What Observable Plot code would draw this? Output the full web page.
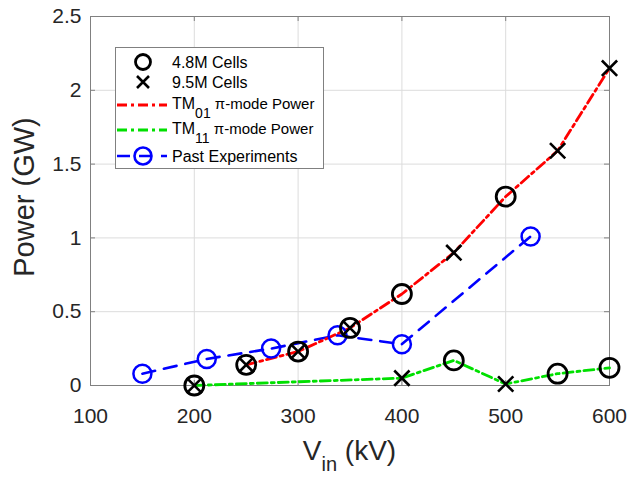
<!DOCTYPE html>
<html>
<head>
<meta charset="utf-8">
<script src="https://cdn.jsdelivr.net/npm/d3@7"></script>
<script src="https://cdn.jsdelivr.net/npm/@observablehq/plot@0.6"></script>
<style>
  html, body { margin: 0; padding: 0; background: #fff; }
  #chart { width: 632px; height: 478px; }
</style>
</head>
<body>
<div id="chart"></div>
<script>
// ---- data ----
const xTicks = [100, 200, 300, 400, 500, 600];
const yTicks = [0, 0.5, 1, 1.5, 2, 2.5];

const vin48 = [200, 250, 300, 350, 400, 450, 500, 550, 600];
const p48   = [0, 0.14, 0.23, 0.39, 0.62, 0.17, 1.28, 0.08, 0.12];

const vin95 = [200, 250, 300, 350, 400, 450, 500, 550, 600];
const p95   = [0, 0.14, 0.23, 0.39, 0.05, 0.90, 0.01, 1.59, 2.15];

const vinTM01 = [250, 300, 350, 400, 450, 500, 550, 600];
const pTM01   = [0.14, 0.23, 0.39, 0.62, 0.90, 1.28, 1.59, 2.15];

const vinTM11 = [200, 400, 450, 500, 550, 600];
const pTM11   = [0, 0.05, 0.17, 0.01, 0.08, 0.12];

const vinPast = [150, 212, 274, 338, 400, 524];
const pPast   = [0.08, 0.18, 0.25, 0.34, 0.28, 1.01];

const legendItems = [
  {kind: "circle", label: "4.8M Cells"},
  {kind: "cross", label: "9.5M Cells"},
  {kind: "red", label: "TM", sub: "01", rest: " π-mode Power"},
  {kind: "green", label: "TM", sub: "11", rest: " π-mode Power"},
  {kind: "blue", label: "Past Experiments"}
];

const pts = (xs, ys) => xs.map((x, i) => ({x, y: ys[i]}));

// ---- layout ----
const W = 632, H = 478, mt = 16, mb = 93, ml = 90, mr = 23;
const pw = W - ml - mr, ph = H - mt - mb;
const font = "'Liberation Sans', Arial, Helvetica, sans-serif";
const frameColor = "#808080";

const plot = Plot.plot({
  width: W, height: H,
  marginTop: mt, marginBottom: mb, marginLeft: ml, marginRight: mr,
  style: {fontFamily: font, background: "#fff", color: "#262626", overflow: "visible"},
  x: {domain: [100, 600], ticks: xTicks},
  y: {domain: [0, 2.5], ticks: yTicks},
  marks: [
    Plot.gridX(xTicks, {stroke: "#dcdcdc", strokeOpacity: 1}),
    Plot.gridY(yTicks, {stroke: "#dcdcdc", strokeOpacity: 1}),
    Plot.tickX(xTicks, {x: d => d, insetTop: ph - 5, stroke: frameColor}),
    Plot.tickX(xTicks, {x: d => d, insetBottom: ph - 5, stroke: frameColor}),
    Plot.tickY(yTicks, {y: d => d, insetRight: pw - 5, stroke: frameColor}),
    Plot.tickY(yTicks, {y: d => d, insetLeft: pw - 5, stroke: frameColor}),
    Plot.frame({stroke: frameColor, strokeWidth: 1}),
    Plot.axisX({ticks: xTicks, tickSize: 0, tickPadding: 23, fontSize: 21, label: null, tickFormat: d => String(d)}),
    Plot.axisY({ticks: yTicks, tickSize: 0, tickPadding: 9, fontSize: 21, label: null, tickFormat: d => String(d)}),
    // lines
    Plot.line(pts(vinPast, pPast), {x: "x", y: "y", stroke: "#0000ff", strokeWidth: 2.6, strokeDasharray: "13,9"}),
    Plot.line(pts(vinTM11, pTM11), {x: "x", y: "y", stroke: "#00e000", strokeWidth: 2.8, strokeDasharray: "10,4,3,4"}),
    Plot.line(pts(vinTM01, pTM01), {x: "x", y: "y", stroke: "#ff0000", strokeWidth: 2.8, strokeDasharray: "10,4,3,4"}),
    // markers
    Plot.dot(pts(vinPast, pPast), {x: "x", y: "y", r: 9, stroke: "#0000ff", strokeWidth: 2.5, fill: "none"}),
    Plot.dot(pts(vin48, p48), {x: "x", y: "y", r: 9.5, stroke: "#000", strokeWidth: 2.8, fill: "none"}),
    Plot.dot(pts(vin95, p95), {x: "x", y: "y", r: 7, symbol: "times", stroke: "#000", strokeWidth: 2.6})
  ]
});

document.getElementById("chart").appendChild(plot);
const svg = d3.select(plot);

// axis labels
const xl = svg.append("text")
  .attr("x", ml + pw / 2).attr("y", 460)
  .attr("text-anchor", "middle")
  .attr("font-family", font).attr("font-size", 28).attr("fill", "#262626");
xl.append("tspan").text("V");
xl.append("tspan").attr("font-size", 20).attr("dy", 11).text("in");
xl.append("tspan").attr("dy", -11).text(" (kV)");

svg.append("text")
  .attr("transform", `translate(24,197) rotate(-90)`)
  .attr("text-anchor", "middle").attr("dominant-baseline", "central")
  .attr("font-family", font).attr("font-size", 29).attr("fill", "#262626")
  .text("Power (GW)");

// legend
const lg = svg.append("g").attr("font-family", font).attr("font-size", 16)
  .attr("fill", "#000").attr("text-anchor", "start");
lg.append("rect").attr("x", 115.5).attr("y", 47.5).attr("width", 208).attr("height", 121)
  .attr("fill", "#fff").attr("stroke", "#808080").attr("stroke-width", 1);
const rowY = [62, 82, 105, 130, 156];
legendItems.forEach((it, i) => {
  const y = rowY[i];
  const g = lg.append("g");
  if (it.kind === "circle") {
    g.append("circle").attr("cx", 143).attr("cy", y).attr("r", 7.5)
      .attr("fill", "none").attr("stroke", "#000").attr("stroke-width", 2.8);
  } else if (it.kind === "cross") {
    g.append("path").attr("d", `M${137},${y - 6}L${149},${y + 6}M${137},${y + 6}L${149},${y - 6}`)
      .attr("stroke", "#000").attr("stroke-width", 2.6);
  } else if (it.kind === "red" || it.kind === "green") {
    g.append("line").attr("x1", 117).attr("x2", 167).attr("y1", y).attr("y2", y)
      .attr("stroke", it.kind === "red" ? "#ff0000" : "#00e000").attr("stroke-width", 2.8)
      .attr("stroke-dasharray", "10,4,3,4");
  } else {
    g.append("line").attr("x1", 117).attr("x2", 167).attr("y1", y).attr("y2", y)
      .attr("stroke", "#0000ff").attr("stroke-width", 2.6).attr("stroke-dasharray", "13,9");
    g.append("circle").attr("cx", 143).attr("cy", y).attr("r", 8.5)
      .attr("fill", "none").attr("stroke", "#0000ff").attr("stroke-width", 2.6);
  }
  const t = g.append("text").attr("x", 172).attr("y", it.sub ? y - 2 : y).attr("dy", "0.36em")
    .attr("text-anchor", "start");
  t.append("tspan").text(it.label);
  if (it.sub) {
    t.append("tspan").attr("font-size", 14).attr("dy", 9).text(it.sub);
    t.append("tspan").attr("dy", -9).attr("font-size", 15).text(it.rest);
  }
});
</script>
</body>
</html>
